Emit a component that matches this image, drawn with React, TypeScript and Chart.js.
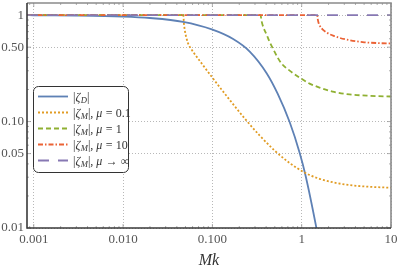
import { useEffect, useRef } from 'react';
import { Chart, registerables } from 'chart.js';

Chart.register(...registerables);

const X_MIN = 0.00084;
const X_MAX = 10;
const Y_MIN = 0.01;
const Y_MAX = 1.3;

const X_TICKS = [0.001, 0.01, 0.1, 1, 10];
const X_TICK_LABELS = ['0.001', '0.010', '0.100', '1', '10'];
const Y_TICKS = [0.01, 0.05, 0.1, 0.5, 1];
const Y_TICK_LABELS = ['0.01', '0.05', '0.10', '0.50', '1'];
const X_TITLE = 'Mk';

// |zeta_D|
const zetaD_x = [0.00084, 0.001, 0.003, 0.01, 0.02, 0.047, 0.0986, 0.169, 0.262, 0.405, 0.538, 0.733, 0.948, 1.106, 1.455, 1.6];
const zetaD_y = [1.0, 0.997, 0.991, 0.97, 0.94, 0.865, 0.735, 0.6, 0.455, 0.285, 0.183, 0.099, 0.051, 0.031, 0.0102, 0.0066];

// |zeta_M|, mu = 0.1
const zetaM01_x = [0.00084, 0.0472, 0.0481, 0.0493, 0.0513, 0.0533, 0.0561, 0.0622, 0.0725, 0.0995, 0.157, 0.2305, 0.339, 0.498, 0.733, 1.077, 1.584, 2.33, 3.42, 5.72, 10];
const zetaM01_y = [1, 1, 0.823, 0.708, 0.608, 0.546, 0.501, 0.44, 0.37, 0.26, 0.159, 0.1067, 0.0739, 0.0534, 0.0408, 0.0332, 0.029, 0.0267, 0.0253, 0.0244, 0.0239];

// |zeta_M|, mu = 1
const zetaM1_x = [0.00084, 0.3477, 0.3522, 0.3614, 0.3756, 0.4026, 0.4383, 0.4857, 0.5383, 0.5966, 0.7328, 0.9475, 1.225, 1.584, 2.213, 3.424, 5.725, 10];
const zetaM1_y = [1, 1, 0.917, 0.832, 0.755, 0.663, 0.558, 0.469, 0.399, 0.35, 0.301, 0.259, 0.2274, 0.2086, 0.1913, 0.18, 0.1747, 0.172];

// |zeta_M|, mu = 10
const zetaM10_x = [0.00084, 1.4935, 1.5127, 1.5441, 1.605, 1.7247, 1.8725, 2.048, 2.329, 2.649, 3.424, 4.819, 6.8, 10];
const zetaM10_y = [1, 1, 0.917, 0.85, 0.788, 0.731, 0.692, 0.663, 0.635, 0.612, 0.582, 0.558, 0.547, 0.541];

// |zeta_M|, mu -> infinity
const zetaMinf_x = [0.00084, 10];
const zetaMinf_y = [1, 1];

// legend labels: [text, style] style 0 normal, 1 italic, 2 italic subscript
const LEGEND_LABELS: [string, number][][] = [
  [['|', 0], ['ζ', 1], ['D', 2], ['|', 0]],
  [['|', 0], ['ζ', 1], ['M', 2], ['|, ', 0], ['μ', 1], [' = 0.1', 0]],
  [['|', 0], ['ζ', 1], ['M', 2], ['|, ', 0], ['μ', 1], [' = 1', 0]],
  [['|', 0], ['ζ', 1], ['M', 2], ['|, ', 0], ['μ', 1], [' = 10', 0]],
  [['|', 0], ['ζ', 1], ['M', 2], ['|, ', 0], ['μ', 1], [' → ∞', 0]],
];

const COLORS = ['#5E81B5', '#E19C24', '#8FB032', '#EB6235', '#8778B3'];
const DASHES: number[][] = [[], [2, 2], [5, 3], [5, 2, 1.5, 2], [11, 9]];

const SERIF = '"Liberation Serif", "DejaVu Serif", serif';

function pts(xs: number[], ys: number[]) {
  return xs.map((x, i) => ({ x, y: ys[i] }));
}

function drawRich(ctx: CanvasRenderingContext2D, segs: [string, number][], x: number, y: number, size: number) {
  let cx = x;
  for (const [t, s] of segs) {
    const fs = s === 2 ? size * 0.72 : size;
    ctx.font = `${s > 0 ? 'italic ' : ''}${fs}px ${SERIF}`;
    const dy = s === 2 ? size * 0.22 : 0;
    ctx.fillText(t, cx, y + dy);
    cx += ctx.measureText(t).width + (s === 1 ? 0.5 : 0);
  }
}

const decorPlugin = {
  id: 'decor',
  afterDraw(chart: any) {
    const ctx: CanvasRenderingContext2D = chart.ctx;
    const { left, right, top, bottom } = chart.chartArea;
    const xs = chart.scales.x;
    const ys = chart.scales.y;
    ctx.save();
    // minor / major tick marks inside the frame
    ctx.strokeStyle = '#999';
    ctx.lineWidth = 0.8;
    for (let e = -4; e <= 1; e++) {
      for (let m = 1; m <= 9; m++) {
        const v = m * Math.pow(10, e);
        if (v < X_MIN || v > X_MAX) continue;
        const px = xs.getPixelForValue(v);
        const len = m === 1 ? 4 : 2;
        ctx.beginPath();
        ctx.moveTo(px, bottom);
        ctx.lineTo(px, bottom - len);
        ctx.moveTo(px, top);
        ctx.lineTo(px, top + len);
        ctx.stroke();
      }
    }
    for (let e = -2; e <= 0; e++) {
      for (let m = 1; m <= 9; m++) {
        const v = m * Math.pow(10, e);
        if (v < Y_MIN || v > Y_MAX) continue;
        const py = ys.getPixelForValue(v);
        const len = m === 1 || m === 5 ? 4 : 2;
        ctx.beginPath();
        ctx.moveTo(left, py);
        ctx.lineTo(left + len, py);
        ctx.moveTo(right, py);
        ctx.lineTo(right - len, py);
        ctx.stroke();
      }
    }
    // frame
    ctx.lineWidth = 1.6;
    ctx.strokeStyle = '#8a8a8a';
    ctx.beginPath();
    ctx.moveTo(left, top);
    ctx.lineTo(right, top);
    ctx.lineTo(right, bottom);
    ctx.stroke();
    ctx.strokeStyle = '#3a3a3a';
    ctx.beginPath();
    ctx.moveTo(left, top);
    ctx.lineTo(left, bottom);
    ctx.lineTo(right, bottom);
    ctx.stroke();

    // legend
    const bx = 33.5, by = 86.5, bw = 95, bh = 86, r = 5;
    ctx.beginPath();
    ctx.moveTo(bx + r, by);
    ctx.lineTo(bx + bw - r, by);
    ctx.arcTo(bx + bw, by, bx + bw, by + r, r);
    ctx.lineTo(bx + bw, by + bh - r);
    ctx.arcTo(bx + bw, by + bh, bx + bw - r, by + bh, r);
    ctx.lineTo(bx + r, by + bh);
    ctx.arcTo(bx, by + bh, bx, by + bh - r, r);
    ctx.lineTo(bx, by + r);
    ctx.arcTo(bx, by, bx + r, by, r);
    ctx.closePath();
    ctx.fillStyle = '#fff';
    ctx.fill();
    ctx.lineWidth = 1;
    ctx.strokeStyle = '#333';
    ctx.stroke();

    LEGEND_LABELS.forEach((segs, i) => {
      const cy = 96.5 + i * 16;
      ctx.save();
      ctx.strokeStyle = COLORS[i];
      ctx.lineWidth = 1.8;
      ctx.setLineDash(DASHES[i]);
      ctx.beginPath();
      ctx.moveTo(38, cy);
      ctx.lineTo(68, cy);
      ctx.stroke();
      ctx.restore();
      ctx.fillStyle = '#333';
      ctx.textBaseline = 'alphabetic';
      ctx.textAlign = 'left';
      drawRich(ctx, segs, 73, cy + 4, 12);
    });
    ctx.restore();
  },
};

export default function App() {
  const ref = useRef<HTMLCanvasElement | null>(null);
  useEffect(() => {
    document.body.style.margin = '0';
    const canvas = ref.current;
    if (!canvas) return;
    const series = [
      pts(zetaD_x, zetaD_y),
      pts(zetaM01_x, zetaM01_y),
      pts(zetaM1_x, zetaM1_y),
      pts(zetaM10_x, zetaM10_y),
      pts(zetaMinf_x, zetaMinf_y),
    ];
    const chart = new Chart(canvas, {
      type: 'line',
      data: {
        datasets: series.map((d, i) => ({
          data: d,
          borderColor: COLORS[i],
          borderWidth: 1.8,
          borderDash: DASHES[i],
          pointRadius: 0,
          fill: false,
          cubicInterpolationMode: 'monotone' as const,
          order: 5 - i,
        })),
      },
      options: {
        responsive: false,
        animation: false,
        events: [],
        layout: { padding: { left: 0, right: 8, top: 3, bottom: 0 } },
        plugins: { legend: { display: false }, tooltip: { enabled: false } },
        scales: {
          x: {
            type: 'logarithmic',
            min: X_MIN,
            max: X_MAX,
            afterBuildTicks: (s: any) => {
              s.ticks = X_TICKS.map((v) => ({ value: v }));
            },
            afterFit: (s: any) => {
              s.height = 43;
              s.paddingLeft = 0;
              s.paddingRight = 0;
            },
            ticks: {
              autoSkip: false,
              maxRotation: 0,
              padding: 4,
              color: '#555',
              font: { family: SERIF, size: 13 },
              callback: (v: any) => X_TICK_LABELS[X_TICKS.indexOf(Number(v))] ?? '',
            },
            grid: { color: '#b8b8b8', lineWidth: 1, drawTicks: false },
            border: { display: false, dash: [1, 2] },
            title: {
              display: true,
              text: X_TITLE,
              color: '#333',
              font: { family: SERIF, size: 16, style: 'italic' },
              padding: { top: 0, bottom: 1 },
            },
          },
          y: {
            type: 'logarithmic',
            min: Y_MIN,
            max: Y_MAX,
            afterBuildTicks: (s: any) => {
              s.ticks = Y_TICKS.map((v) => ({ value: v }));
            },
            afterFit: (s: any) => {
              s.width = 27;
              s.paddingTop = 0;
              s.paddingBottom = 0;
            },
            ticks: {
              autoSkip: false,
              padding: 3,
              color: '#555',
              font: { family: SERIF, size: 13 },
              callback: (v: any) => Y_TICK_LABELS[Y_TICKS.indexOf(Number(v))] ?? '',
            },
            grid: { color: '#b8b8b8', lineWidth: 1, drawTicks: false },
            border: { display: false, dash: [1, 2] },
          },
        },
      },
      plugins: [decorPlugin],
    } as any);
    return () => chart.destroy();
  }, []);
  return (
    <div style={{ position: 'fixed', left: 0, top: 0, width: 399, height: 271 }}>
      <canvas ref={ref} width={399} height={271} />
    </div>
  );
}
